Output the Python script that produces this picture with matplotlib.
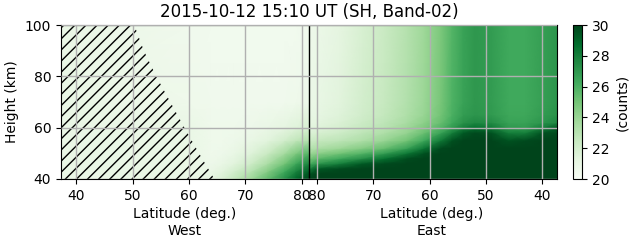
#!/usr/bin/env python3

'''Plot a west/east latitude-height cross section of counts for one band.'''

import numpy as np
import matplotlib as mpl
mpl.use('Agg')
import matplotlib.pyplot as plt

# split point: west latitude runs up to it, east latitude runs back down
split = 81.35

# west pass: latitude nodes and heights (km), counts
west_lat = [37.3, 60, 64, 66, 68, 71, 74, 77, 79, 81.35]
west_height = [40, 43, 46, 50, 55, 60, 70, 100]
west_counts = [
    [20.9, 20.9, 21.2, 21.8, 22.6, 23.8, 25.5, 27.4, 28.9, 30.0],
    [20.9, 20.9, 20.9, 21.4, 22.0, 23.0, 24.5, 26.3, 27.8, 29.2],
    [20.9, 20.9, 20.7, 21.0, 21.4, 22.2, 23.4, 25.0, 26.4, 27.8],
    [20.9, 20.9, 20.6, 20.7, 21.0, 21.5, 22.4, 23.6, 24.7, 25.8],
    [20.9, 20.9, 20.6, 20.6, 20.7, 21.0, 21.4, 22.1, 22.7, 23.2],
    [20.9, 20.9, 20.6, 20.6, 20.6, 20.7, 20.9, 21.2, 21.5, 21.8],
    [20.9, 20.6, 20.5, 20.5, 20.5, 20.5, 20.5, 20.5, 20.6, 20.7],
    [20.9, 20.5, 20.4, 20.4, 20.4, 20.4, 20.4, 20.4, 20.4, 20.5],
]

# east pass
east_lat = [81.35, 80, 76, 72, 68, 64, 61, 58, 56, 54, 52, 49, 46, 43, 40,
            37.4]
east_height = [40, 42, 44, 46, 48, 50, 52, 55, 58, 60, 62, 65, 70, 100]
east_counts = [
    [30, 30, 30, 30, 30, 30, 30, 30, 30, 30, 30, 30, 30, 30, 30, 30],
    [29.5, 30, 30, 30, 30, 30, 30, 30, 30, 30, 30, 30, 30, 30, 30, 30],
    [27.8, 29.3, 29.8, 30, 30, 30, 30, 30, 30, 30, 30, 30, 30, 30, 30, 30],
    [26.0, 27.0, 28.0, 29.3, 29.8, 30, 30, 30, 30, 30, 30, 30, 30, 30, 30, 30],
    [24.8, 25.5, 26.3, 27.3, 28.5, 29.7, 30, 30, 30, 30, 30, 30, 30, 30, 30,
     30],
    [23.8, 24.3, 25.0, 25.8, 26.8, 28.3, 29.6, 30, 30, 30, 30, 30, 30, 30, 30,
     30],
    [23.0, 23.3, 23.8, 24.5, 25.3, 26.6, 28.3, 29.8, 30, 30, 30, 30, 30, 30,
     30, 30],
    [22.2, 22.5, 22.8, 23.3, 24.0, 25.0, 26.3, 28.2, 29.6, 30, 30, 30, 29.5,
     29.8, 30, 30],
    [21.6, 21.8, 22.2, 22.8, 23.3, 24.1, 25.2, 26.6, 28.0, 29.3, 29.8, 29.5,
     28.0, 28.0, 29.5, 29.8],
    [21.3, 21.5, 21.9, 22.5, 23.0, 23.8, 24.7, 25.8, 26.9, 28.0, 28.6, 28.2,
     27.0, 26.9, 28.0, 29.3],
    [21.1, 21.3, 21.7, 22.3, 22.8, 23.5, 24.3, 25.3, 26.3, 27.2, 27.6, 27.4,
     26.6, 26.6, 27.1, 27.6],
    [21.0, 21.1, 21.5, 22.1, 22.6, 23.3, 24.0, 25.0, 26.0, 26.8, 27.1, 26.9,
     26.4, 26.4, 26.8, 27.2],
    [20.8, 21.0, 21.4, 22.0, 22.5, 23.2, 23.9, 24.9, 25.9, 26.6, 27.0, 26.8,
     26.3, 26.3, 26.7, 27.1],
    [20.6, 20.8, 21.2, 21.8, 22.4, 23.1, 23.8, 24.8, 25.8, 26.6, 27.0, 26.8,
     26.3, 26.3, 26.7, 27.1],
]

# limb edge of the west pass (hatched: no valid data equatorward of it)
limb_height = [40, 50, 60, 70, 80, 90, 100]
limb_lat = [64.5, 61.8, 59.2, 56.7, 54.2, 52.0, 50.3]

tick_lat = [40, 50, 60, 70, 80]


def do_plotting(savefig='out.png', dpi=100, l=631, w=243):
    '''Build the cross section with matplotlib.'''

    fig = plt.figure(figsize=(l / dpi, w / dpi), dpi=dpi)
    ax = fig.add_axes([61 / l, 1 - 179 / w, 496 / l, 154 / w])
    cax = fig.add_axes([573 / l, 1 - 179 / w, 9 / l, 154 / w])

    norm = mpl.colors.Normalize(vmin=20, vmax=30)
    u_west = np.array(west_lat)
    u_east = 2 * split - np.array(east_lat)
    ax.pcolormesh(u_west, west_height, np.array(west_counts), cmap='Greens',
                  norm=norm, shading='gouraud')
    mesh = ax.pcolormesh(u_east, east_height, np.array(east_counts),
                         cmap='Greens', norm=norm, shading='gouraud')

    ax.fill_betweenx(limb_height, west_lat[0], limb_lat, facecolor='none',
                     edgecolor='k', hatch='///', linewidth=0)
    ax.axvline(split, color='k', lw=1)

    ticks = list(tick_lat) + list(2 * split - np.array(tick_lat[::-1]))
    labels = [str(t) for t in tick_lat] + [str(t) for t in tick_lat[::-1]]
    ax.set_xticks(ticks)
    ax.set_xticklabels(labels)
    ax.set_yticks([40, 60, 80, 100])
    ax.set_xlim(west_lat[0], 2 * split - east_lat[-1])
    ax.set_ylim(40, 100)
    ax.grid(True, color='#b0b0b0', lw=1)
    ax.set_axisbelow(False)
    ax.set_ylabel('Height (km)')
    ax.set_title('2015-10-12 15:10 UT (SH, Band-02)', fontsize=12)
    ax.text(0.25, -0.185, 'Latitude (deg.)\nWest', transform=ax.transAxes,
            ha='center', va='top')
    ax.text(0.748, -0.185, 'Latitude (deg.)\nEast', transform=ax.transAxes,
            ha='center', va='top')

    cb = fig.colorbar(mesh, cax=cax, ticks=[20, 22, 24, 26, 28, 30])
    cb.set_label('(counts)')

    fig.savefig(savefig, dpi=dpi)
    plt.close(fig)


def main():
    do_plotting()


if __name__ == '__main__':
    main()
